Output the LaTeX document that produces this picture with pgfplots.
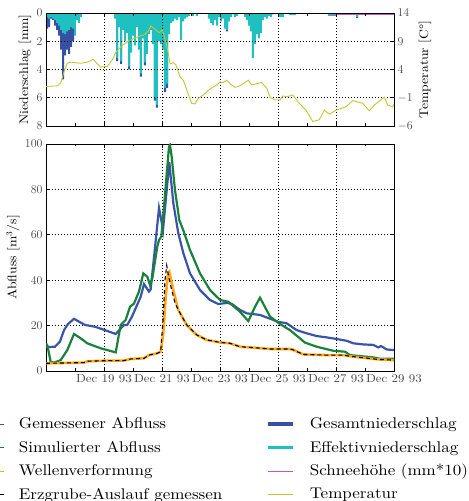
\documentclass[border=0pt]{standalone}
\usepackage{fontspec}
\setmainfont{lmroman10-regular.otf}[FakeStretch=1.1]
\usepackage{pgfplots}
\pgfplotsset{compat=1.18}
\definecolor{cBlue}{RGB}{58,84,168}
\definecolor{cGreen}{RGB}{24,130,58}
\definecolor{cOrange}{RGB}{255,168,24}
\definecolor{cBar}{RGB}{56,80,164}
\definecolor{cCyan}{RGB}{30,192,192}
\definecolor{cMag}{RGB}{190,90,190}
\definecolor{cTemp}{RGB}{196,198,50}
\definecolor{cTick}{RGB}{70,70,70}
\pgfplotsset{
  myaxis/.style={scale only axis, width=348bp, xmin=0, xmax=12,
    axis line style={line width=0.9pt},
    tick style={black, line width=0.7pt},
    major tick length=4bp, minor tick length=2.5bp,
    tick label style={font=\fontsize{11.8}{13}\selectfont, text=cTick},
    label style={font=\fontsize{12.5}{14}\selectfont},
    grid=major,
    major grid style={black, line width=0.8pt, dash pattern=on 0.9pt off 2.1pt},
    minor xtick={1,3,...,11}},
}
\begin{document}
\begin{tikzpicture}
\useasboundingbox (0,0) rectangle (469bp,501bp);
% ---------- top: precipitation ----------
\begin{axis}[myaxis, at={(46bp,375bp)}, anchor=south west, height=113bp,
  ymin=0, ymax=8, y dir=reverse, ytick={0,2,4,6,8}, ytick pos=left,
  xtick={2,4,6,8,10}, xticklabels={}, axis on top,
  ylabel={Niederschlag [mm]},
  ylabel style={at={(axis description cs:-0.060,0.5)}, anchor=center}]
\addplot[const plot, fill=cBar, draw=none] coordinates {
(0,1.1) (0.069,1.0) (0.138,0.4) (0.207,0.5) (0.276,0.9) (0.345,1.2) (0.414,1.6)
(0.483,2.6) (0.552,4.7) (0.621,3.0) (0.690,2.6) (0.759,2.9) (0.828,2.4) (0.897,2.0) (0.966,0)
(2.414,3.4) (2.483,0) (2.552,3.6) (2.621,0) (2.828,4.0) (2.897,0) (3.241,4.5) (3.310,0)
(3.379,3.7) (3.448,0) (3.724,6.2) (3.793,6.7) (3.862,0) (4.069,5.6) (4.138,5.3) (4.207,0)
(6.207,1.3) (6.276,0) (10.690,0.35) (10.759,0) (12,0)} \closedcycle;
\addplot[const plot, fill=cCyan, draw=none] coordinates {
(0,0.3) (0.069,0.4) (0.138,0.3) (0.207,0.4) (0.276,0.5) (0.345,0.7) (0.414,0.9) (0.483,1.2)
(0.552,1.4) (0.621,1.5) (0.690,1.3) (0.759,1.2) (0.828,1.0) (0.897,1.1) (0.966,1.6) (1.034,0.5)
(1.103,0.7) (1.172,0.3) (1.241,0)
(2.345,0.4) (2.414,3.2) (2.483,1.0) (2.552,3.4) (2.621,1.2) (2.690,2.0) (2.759,1.4) (2.828,3.8)
(2.897,2.8) (2.966,1.6) (3.034,2.3) (3.103,1.0) (3.172,2.6) (3.241,4.3) (3.310,1.8) (3.379,3.5)
(3.448,2.9) (3.517,1.5) (3.586,1.2) (3.655,2.2) (3.724,6.0) (3.793,6.5) (3.862,2.0) (3.931,2.2)
(4.000,2.6) (4.069,5.3) (4.138,5.0) (4.207,1.5) (4.276,0.7) (4.345,0.6) (4.414,0.4) (4.483,0.5)
(4.552,0.3) (4.621,1.9) (4.690,0.6) (4.759,0.4) (4.828,0.3) (4.897,0.2) (4.966,0) (5.034,0.2)
(5.103,0) (5.172,0.2) (5.241,0)
(5.586,0.4) (5.655,0.7) (5.724,0.85) (5.793,0.5) (5.862,0.9) (5.931,0.3) (6.000,0.6) (6.069,0.4)
(6.138,1.1) (6.207,1.2) (6.276,0.6) (6.345,0.3) (6.414,0.1) (6.483,0.3) (6.552,0.2) (6.621,0)
(6.828,0.3) (6.897,0.5) (6.966,0.9) (7.034,1.3) (7.103,3.2) (7.172,2.2) (7.241,1.5) (7.310,1.8)
(7.379,1.4) (7.448,0.5) (7.517,0.3) (7.586,0.4) (7.655,0.2) (7.724,0.3) (7.793,0.1) (7.862,0)
(8.034,0.3) (8.207,0) (8.379,0.15) (8.621,0) (9.724,0.2) (10.0,0) (10.690,0.3) (10.759,0) (12,0)} \closedcycle;
\addplot[cMag, line width=0.8pt] coordinates {(0,0) (9.8,0) (9.8,0.08) (12,0.08)};
\end{axis}
% ---------- top: temperature ----------
\begin{axis}[scale only axis, width=348bp, height=113bp, at={(46bp,375bp)}, anchor=south west,
  xmin=0, xmax=12, ymin=-6, ymax=14, ytick={-6,-1,4,9,14},
  axis y line*=right, axis x line=none,
  axis line style={line width=0.9pt}, tick style={black, line width=0.7pt}, major tick length=4bp,
  tick label style={font=\fontsize{11.8}{13}\selectfont, text=cTick},
  label style={font=\fontsize{12.5}{14}\selectfont},
  ylabel={Temperatur [C°]},
  ylabel style={at={(axis description cs:1.089,0.5)}, anchor=center}]
\addplot[cTemp, line width=0.9pt] coordinates {
(0.000,1.0) (0.390,1.1) (0.507,1.6) (0.621,3.6) (0.734,5.1) (0.852,5.3) (1.197,5.1) (1.424,5.3)
(1.631,5.8) (1.748,5.1) (1.886,4.4) (2.000,4.5) (2.114,4.5) (2.286,5.7) (2.403,7.0) (2.576,8.0)
(2.803,8.9) (3.034,9.5) (3.266,10.0) (3.379,10.1) (3.552,11.0) (3.610,11.7) (3.724,11.3)
(3.897,10.5) (4.010,11.0) (4.103,9.5) (4.217,6.9) (4.276,5.0) (4.390,5.2) (4.483,4.8) (4.621,2.7)
(4.734,2.1) (4.852,0.4) (5.024,-2.0) (5.138,-2.1) (5.252,-1.1) (5.424,-0.5) (5.655,0.55)
(5.886,1.26) (6.000,1.8) (6.114,1.7) (6.231,2.1) (6.345,1.5) (6.517,0.85) (6.631,1.0) (6.803,1.5)
(6.976,2.1) (7.093,1.26) (7.266,1.5) (7.438,1.7) (7.610,0.7) (7.724,-0.9) (7.897,-1.4) (8.069,-1.4)
(8.162,-0.7) (8.334,-0.8) (8.507,-0.5) (8.734,-2.0) (8.966,-3.2) (9.197,-5.2) (9.424,-4.9)
(9.597,-3.2) (9.769,-3.9) (10.000,-3.2) (10.345,-2.6) (10.576,-1.5) (10.921,-2.0) (11.148,-3.3)
(11.321,-2.3) (11.666,-0.9) (11.783,-2.3) (11.955,-2.6) (12.000,-2.2)};
\end{axis}
% ---------- bottom: discharge ----------
\begin{axis}[myaxis, at={(46bp,130bp)}, anchor=south west, height=227bp,
  ymin=0, ymax=100, ytick={0,20,...,100},
  xtick={2,4,...,12},
  xticklabels={Dec 19 93, Dec 21 93, Dec 23 93, Dec 25 93, Dec 27 93, Dec 29 93},
  ylabel={Abfluss [m$^3$/s]},
  ylabel style={at={(axis description cs:-0.095,0.5)}, anchor=center},
  legend columns=2, legend cell align=left,
  legend image code/.code={\draw[#1] (0bp,0bp) -- (25bp,0bp);},
  legend style={at={(axis description cs:-0.195,-0.198)}, anchor=north west,
    draw=none, fill=none, inner sep=0pt, outer sep=0pt,
    font=\fontsize{15.5}{18.5}\selectfont, row sep=6.7bp,
    /tikz/every odd column/.append style={column sep=13bp},
    /tikz/every even column/.append style={column sep=42bp}}]
\addlegendimage{cBlue, line width=0.8pt}
\addlegendentry{Gemessener Abfluss}
\addlegendimage{cBar, line width=3.5pt}
\addlegendentry{Gesamtniederschlag}
\addlegendimage{cGreen, line width=0.8pt}
\addlegendentry{Simulierter Abfluss}
\addlegendimage{cCyan, line width=3.5pt}
\addlegendentry{Effektivniederschlag}
\addlegendimage{cOrange, line width=0.8pt}
\addlegendentry{Wellenverformung}
\addlegendimage{cMag, line width=0.8pt}
\addlegendentry{Schneehöhe (mm*10)}
\addlegendimage{black, line width=0.8pt}
\addlegendentry{Erzgrube-Auslauf gemessen}
\addlegendimage{cTemp, line width=0.8pt}
\addlegendentry{Temperatur}
\addplot[forget plot, cBlue, line width=2.2pt] coordinates {
(0.000,10.5) (0.310,10.7) (0.483,13) (0.621,18) (0.759,20.7) (0.966,23) (1.172,21.5) (1.345,20.3)
(1.690,19.5) (2.034,18) (2.403,16.3) (2.690,20.3) (2.803,20.3) (2.966,24) (3.266,32.7) (3.379,38.3)
(3.552,35) (3.610,36) (3.724,50) (3.897,71.8) (3.976,66.5) (4.034,62) (4.252,92) (4.390,74)
(4.562,60.7) (4.734,52) (4.966,43) (5.310,35.7) (5.655,31.3) (5.941,29.5) (6.231,30) (6.403,29.6)
(6.690,26.9) (6.921,25.4) (7.379,24.7) (8.000,21.7) (8.300,21) (8.645,18) (8.990,16.6) (9.334,15.4)
(9.679,14.8) (10.024,14.1) (10.369,13.3) (10.597,12.2) (10.941,11.7) (11.286,11.5) (11.459,10.4)
(11.552,11) (11.748,9.5) (12.000,9.2)};
\addplot[forget plot, cGreen, line width=2.2pt] coordinates {
(0.000,12) (0.045,11.4) (0.162,4) (0.276,3.7) (0.507,4.8) (0.734,9.2) (0.966,16.3) (1.197,14.4)
(1.424,12.2) (1.886,10) (2.403,8.2) (2.576,20.3) (2.748,22.5) (2.897,28.3) (3.034,29.7) (3.207,35)
(3.355,43) (3.493,41.5) (3.586,37.9) (3.666,40.8) (3.838,54.8) (3.897,57.7) (3.976,59.2) (4.069,72.4)
(4.241,98.8) (4.276,99.6) (4.334,94.4) (4.448,79.7) (4.597,66.5) (4.734,62) (4.966,53.3) (5.310,43)
(5.655,35.7) (6.000,31.3) (6.286,30.5) (6.690,26.1) (6.976,22) (7.207,28.3) (7.379,32.3) (7.724,24)
(8.069,20.7) (8.414,18) (8.931,12.5) (9.334,10.7) (9.907,8.9) (10.310,8.5) (10.483,7) (11.286,6)
(11.517,5.4) (12.000,5.4)};
\addplot[forget plot, cOrange, line width=2.6pt] coordinates {
(0,3.4) (1.310,3.7) (1.424,4.3) (2.231,4.6) (2.690,4.6) (2.921,5.3) (3.379,5.6) (3.552,7)
(3.838,7.8) (3.955,8.5) (4.045,16.7) (4.128,32.7) (4.207,43) (4.252,43.7) (4.390,35.7) (4.562,26.9)
(4.852,20.3) (5.197,15.9) (5.541,13.7) (6.000,12.6) (6.345,12.2) (6.690,10.7) (7.148,10.3)
(7.724,9.7) (8.414,9.7) (8.528,9.3) (8.872,7.3) (9.679,7) (10.252,7) (10.483,6.5) (11.459,5.1) (12.000,4.8)};
\addplot[forget plot, black, line width=1.1pt, dash pattern=on 4pt off 3pt] coordinates {
(0,3.4) (1.310,3.7) (1.424,4.3) (2.231,4.6) (2.690,4.6) (2.921,5.3) (3.379,5.6) (3.552,7)
(3.838,7.8) (3.955,8.5) (4.034,22) (4.103,40) (4.162,46.5) (4.224,42) (4.310,37) (4.448,30) (4.562,26.9)
(4.852,20.3) (5.197,15.9) (5.541,13.7) (6.000,12.6) (6.345,12.2) (6.690,10.7) (7.148,10.3)
(7.724,9.7) (8.414,9.7) (8.528,9.3) (8.872,7.3) (9.679,7) (10.252,7) (10.483,6.5) (11.459,5.1) (12.000,4.8)};
\end{axis}
\end{tikzpicture}
\end{document}
